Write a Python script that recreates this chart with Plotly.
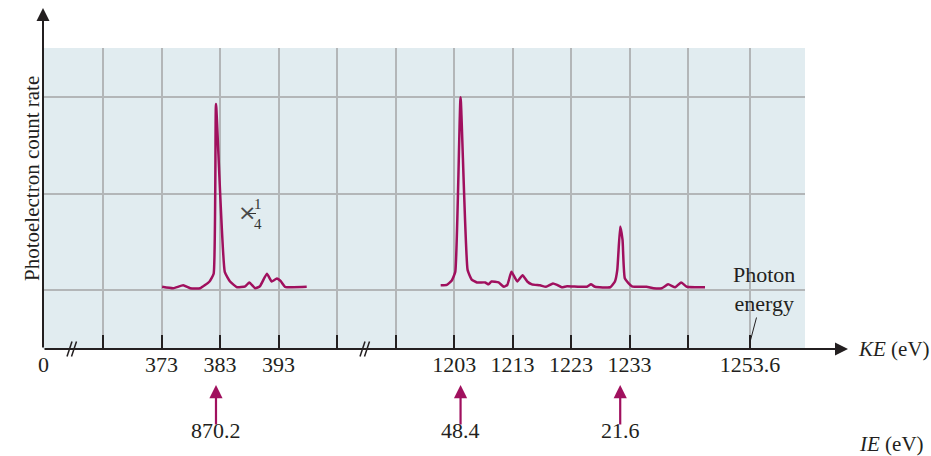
import plotly.graph_objects as go
from plotly.subplots import make_subplots

# spectrum around 383 eV (drawn x1/4)
ke_low = [373.1, 375.0, 376.7, 377.9, 379.6, 381.2, 381.9, 382.3, 383.8, 384.7, 385.9, 387.3, 388.0,
          389.0, 389.8, 391.0, 391.8, 392.7, 393.4, 394.1, 397.8]
rate_low = [1.035, 1.02, 1.05, 1.02, 1.02, 1.09, 1.17, 2.93, 1.19, 1.09, 1.03, 1.04, 1.08,
            1.02, 1.04, 1.17, 1.09, 1.12, 1.09, 1.035, 1.035]

# spectrum 1200-1246 eV
ke_high = [1200.7, 1201.75, 1202.6, 1203.2, 1204.1, 1205.3, 1206.0, 1206.9, 1208.3, 1208.9, 1209.4,
           1210.6, 1211.5, 1212.1, 1212.8, 1213.8, 1214.7, 1215.5, 1216.3, 1217.7, 1218.7, 1219.9,
           1220.6, 1221.4, 1222.3, 1225.7, 1226.4, 1227.1, 1229.7, 1230.5, 1230.9, 1231.4, 1231.8,
           1232.2, 1233.4, 1235.9, 1237.1, 1238.5, 1239.6, 1240.8, 1241.8, 1242.8, 1245.9]
rate_high = [1.05, 1.055, 1.10, 1.19, 3.00, 1.21, 1.11, 1.08, 1.08, 1.06, 1.09,
             1.08, 1.035, 1.055, 1.19, 1.09, 1.155, 1.09, 1.06, 1.05, 1.035, 1.07,
             1.055, 1.03, 1.04, 1.035, 1.06, 1.035, 1.03, 1.09, 1.21, 1.66, 1.52,
             1.12, 1.04, 1.035, 1.02, 1.02, 1.06, 1.03, 1.08, 1.035, 1.03]

# peaks marked with ionization energies
peak_ke = [382.3, 1204.1, 1231.4]
peak_axis = ["x2", "x3", "x3"]
peak_ie = ["870.2", "48.4", "21.6"]

ticks_low = [363, 373, 383, 393, 403]
labels_low = ["", "373", "383", "393", ""]
ticks_high = [1193, 1203, 1213, 1223, 1233, 1243, 1253.6]
labels_high = ["", "1203", "1213", "1223", "1233", "", "1253.6"]
photon_energy = 1253.6

FONT = "Liberation Serif"
INK = "#231f20"
MAG = "#a0105e"
GRID = "#b3b6b8"
BG = "#e1ecf0"
FS = 22

W, H = 931, 456
L, R, T, B = 43, 126, 48, 107
PW, PH = W - L - R, H - T - B


def px(x):
    return (x - L) / PW


def py(y):
    return (H - B - y) / PH


fig = make_subplots(rows=1, cols=3, shared_yaxes=True, horizontal_spacing=0,
                    column_widths=[29, 295, 438])

# empty trace so the first (broken-off) segment gets its background and tick label
fig.add_trace(go.Scatter(x=[5], y=[2], mode="markers", marker=dict(opacity=0),
                         showlegend=False, hoverinfo="skip"), row=1, col=1)
fig.add_trace(go.Scatter(x=ke_low, y=rate_low, mode="lines",
                         line=dict(color=MAG, width=2.5, shape="spline", smoothing=0.4),
                         showlegend=False, hoverinfo="skip"), row=1, col=2)
fig.add_trace(go.Scatter(x=ke_high, y=rate_high, mode="lines",
                         line=dict(color=MAG, width=2.5, shape="spline", smoothing=0.4),
                         showlegend=False, hoverinfo="skip"), row=1, col=3)

xcommon = dict(showline=False, zeroline=False, ticks="inside", ticklen=14, tickwidth=2,
               tickcolor=INK, gridcolor=GRID, gridwidth=1.5, automargin=False,
               tickfont=dict(family=FONT, size=FS, color=INK))
fig.update_xaxes(range=[-0.2, 10], tickvals=[0], ticktext=["0"], showgrid=False, row=1, col=1, **xcommon)
fig.update_xaxes(range=[357.7, 408.1], tickvals=ticks_low, ticktext=labels_low, row=1, col=2, **xcommon)
fig.update_xaxes(range=[1188.1, 1263.0], tickvals=ticks_high, ticktext=labels_high, row=1, col=3, **xcommon)
fig.update_xaxes(ticklen=0, row=1, col=1)
fig.update_yaxes(range=[0.39, 3.51], tickvals=[1, 2, 3], showticklabels=False, ticks="",
                 showline=False, zeroline=False, gridcolor=GRID, gridwidth=1.5, automargin=False)

ann = []
# axes with arrows
ann.append(dict(xref="paper", yref="paper", x=0, y=py(8), ax=0, ay=341, axref="pixel", ayref="pixel",
                showarrow=True, arrowhead=2, arrowsize=1.3, arrowwidth=2, arrowcolor=INK, text=""))
ann.append(dict(xref="paper", yref="paper", x=px(848), y=0, ax=-805, ay=0,
                showarrow=True, arrowhead=2, arrowsize=1.3, arrowwidth=2, arrowcolor=INK, text=""))
ann.append(dict(xref="paper", yref="paper", x=px(856), y=0, xanchor="left", yanchor="middle",
                showarrow=False, text="<i>KE</i> (eV)", font=dict(family=FONT, size=21, color=INK)))
ann.append(dict(xref="paper", yref="paper", x=px(857), y=py(444), xanchor="left", yanchor="middle",
                showarrow=False, text="<i>IE</i> (eV)", font=dict(family=FONT, size=21, color=INK)))
ann.append(dict(xref="paper", yref="paper", x=px(18), y=py(179), textangle=-90, showarrow=False,
                text="Photoelectron count rate", font=dict(family=FONT, size=21, color=INK)))

# IE arrows and labels
for k, ax_name, ie in zip(peak_ke, peak_axis, peak_ie):
    ann.append(dict(xref=ax_name, yref="paper", x=k, y=py(385), ax=0, ay=41,
                    showarrow=True, arrowhead=2, arrowsize=1.2, arrowwidth=2.2, arrowcolor=MAG, text=""))
    ann.append(dict(xref=ax_name, yref="paper", x=k, y=py(445), showarrow=False, text=ie,
                    font=dict(family=FONT, size=FS, color=INK)))

# photon energy label
ann.append(dict(xref="x3", yref="paper", x=photon_energy, y=py(342), ax=14, ay=-53,
                showarrow=True, arrowhead=0, arrowwidth=1, arrowcolor=INK,
                text="Photon<br>energy", font=dict(family=FONT, size=FS, color=INK)))

# x 1/4 label
ann.append(dict(xref="paper", yref="paper", x=px(236), y=py(212.5), showarrow=False, text="×",
                font=dict(family="DejaVu Sans", size=22, color="#4a4a4a")))
ann.append(dict(xref="paper", yref="paper", x=px(251.5), y=py(214), showarrow=False, text="1<br>4",
                font=dict(family=FONT, size=15, color="#333333")))

shapes = [dict(type="line", xref="paper", yref="paper", x0=px(247), x1=px(256), y0=py(213.5), y1=py(213.5),
               line=dict(color="#333333", width=1))]
# axis break marks
for bx in (67, 360):
    for off in (0, 4.5):
        shapes.append(dict(type="line", xref="paper", yref="paper",
                           x0=px(bx + off), y0=py(356.5), x1=px(bx + off + 5), y1=py(341.5),
                           line=dict(color=INK, width=1.5)))

fig.update_layout(width=W, height=H, margin=dict(l=L, r=R, t=T, b=B, autoexpand=False),
                  paper_bgcolor="white", plot_bgcolor=BG, showlegend=False,
                  annotations=ann, shapes=shapes)

fig.write_html("out.html", config={"displayModeBar": False},
               post_script="document.body.style.margin='0';")
